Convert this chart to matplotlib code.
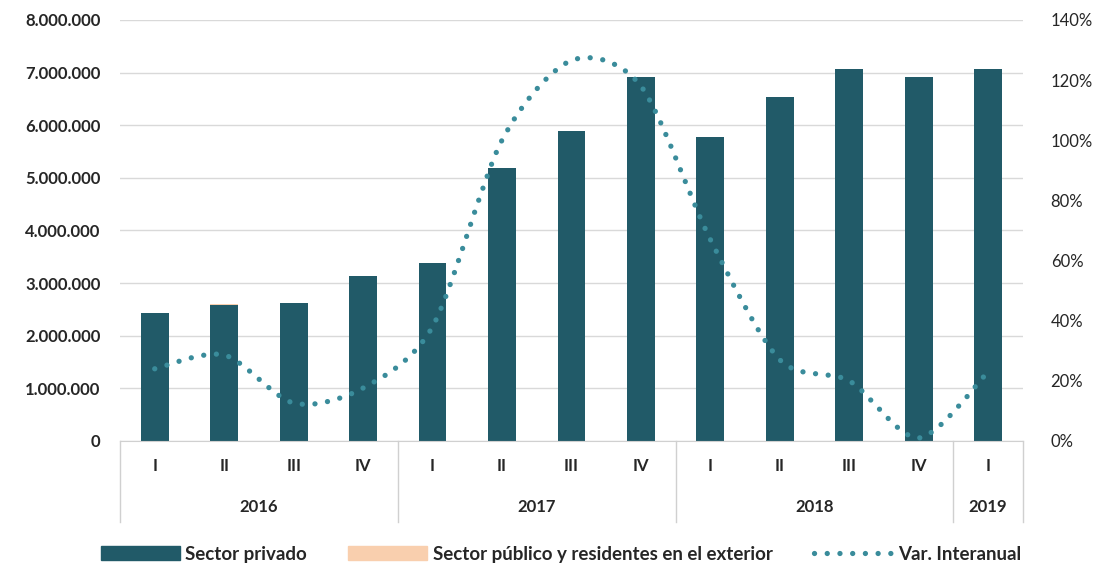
import matplotlib.pyplot as plt
from matplotlib.path import Path
from matplotlib.patches import PathPatch, Patch
from matplotlib.lines import Line2D
from matplotlib.ticker import FuncFormatter
import matplotlib.transforms as mtransforms

plt.rcParams['font.family'] = ['Lato', 'DejaVu Sans']

# data
quarters = ['I', 'II', 'III', 'IV', 'I', 'II', 'III', 'IV', 'I', 'II', 'III', 'IV', 'I']
years = ['2016', '2017', '2018', '2019']
year_sizes = [4, 4, 4, 1]
privado = [2430000, 2590000, 2620000, 3140000, 3380000, 5190000, 5890000,
           6920000, 5780000, 6540000, 7070000, 6920000, 7070000]
publico = [8000, 8000, 4000, 3000, 3000, 3000, 3000,
           3000, 3000, 3000, 3000, 3000, 3000]
var_interanual = [0.24, 0.286, 0.126, 0.176, 0.38, 1.00, 1.265,
                  1.18, 0.67, 0.27, 0.20, 0.01, 0.23]

bar_color = '#215a68'
pub_color = '#f9cfae'
line_color = '#3a8c9b'
text_color = '#262626'

fig = plt.figure(figsize=(11.07, 5.69), dpi=100)
ax = fig.add_axes([0.1084, 0.225, 0.8156, 0.740])
x = list(range(len(quarters)))

ax.bar(x, privado, width=0.4, color=bar_color, zorder=2)
ax.bar(x, publico, width=0.4, bottom=privado, color=pub_color, zorder=2)

ax.set_xlim(-0.5, len(quarters) - 0.5)
ax.set_ylim(0, 8000000)
ax.set_yticks(range(0, 8000001, 1000000))
ax.yaxis.set_major_formatter(FuncFormatter(lambda v, p: f'{int(v):,}'.replace(',', '.')))
ax.grid(axis='y', color='#d9d9d9', lw=1, zorder=0)
ax.set_axisbelow(True)
for s in ['top', 'right', 'left']:
    ax.spines[s].set_visible(False)
ax.spines['bottom'].set_color('#d0d0d0')
ax.tick_params(axis='y', length=0, pad=14, labelsize=12, labelcolor=text_color)
for lab in ax.get_yticklabels():
    lab.set_fontweight('bold')
ax.set_xticks([])

# two-level category axis
trans = mtransforms.blended_transform_factory(ax.transData, ax.transAxes)
for i, q in enumerate(quarters):
    ax.text(i, -0.059, q, transform=trans, ha='center', va='center',
            fontsize=12, fontweight='bold', color=text_color)
start = -0.5
bounds = [start]
for yr, n in zip(years, year_sizes):
    end = start + n
    ax.text((start + end) / 2, -0.157, yr, transform=trans, ha='center', va='center',
            fontsize=12, fontweight='bold', color=text_color)
    bounds.append(end)
    start = end
for b in bounds:
    ax.add_line(Line2D([b, b], [0, -0.192], transform=trans, color='#d0d0d0',
                       lw=1, clip_on=False))

# secondary axis: smoothed dotted line
ax2 = ax.twinx()
ax2.set_ylim(0, 1.4)
ax2.set_yticks([i / 10 for i in range(0, 15, 2)])
ax2.yaxis.set_major_formatter(FuncFormatter(lambda v, p: f'{v * 100:.0f}%'))
ax2.tick_params(axis='y', length=0, pad=20, labelsize=12, labelcolor=text_color)
for s in ax2.spines.values():
    s.set_visible(False)

pts = list(zip(x, var_interanual))
verts = [pts[0]]
codes = [Path.MOVETO]
for i in range(len(pts) - 1):
    p0 = pts[i - 1] if i > 0 else pts[i]
    p1 = pts[i]
    p2 = pts[i + 1]
    p3 = pts[i + 2] if i + 2 < len(pts) else pts[i + 1]
    c1 = (p1[0] + (p2[0] - p0[0]) / 7, p1[1] + (p2[1] - p0[1]) / 7)
    c2 = (p2[0] - (p3[0] - p1[0]) / 7, p2[1] - (p3[1] - p1[1]) / 7)
    verts += [c1, c2, p2]
    codes += [Path.CURVE4] * 3
dots = (0, (0.01, 2.4))
ax2.add_patch(PathPatch(Path(verts, codes), fill=False, edgecolor=line_color,
                        lw=3.8, linestyle=dots, capstyle='round', zorder=3))

handles = [Patch(color=bar_color), Patch(color=pub_color),
           Line2D([], [], color=line_color, lw=3.8, linestyle=dots, dash_capstyle='round')]
labels = ['Sector privado', 'Sector público y residentes en el exterior', 'Var. Interanual']
leg = fig.legend(handles, labels, loc='center', bbox_to_anchor=(0.507, 0.026), ncol=3,
                 frameon=False, handlelength=4.2, handleheight=0.75, columnspacing=2.2,
                 handletextpad=0.3, prop={'size': 13.5, 'weight': 'bold'})
for t in leg.get_texts():
    t.set_color(text_color)

fig.savefig('out.png', dpi=100)
